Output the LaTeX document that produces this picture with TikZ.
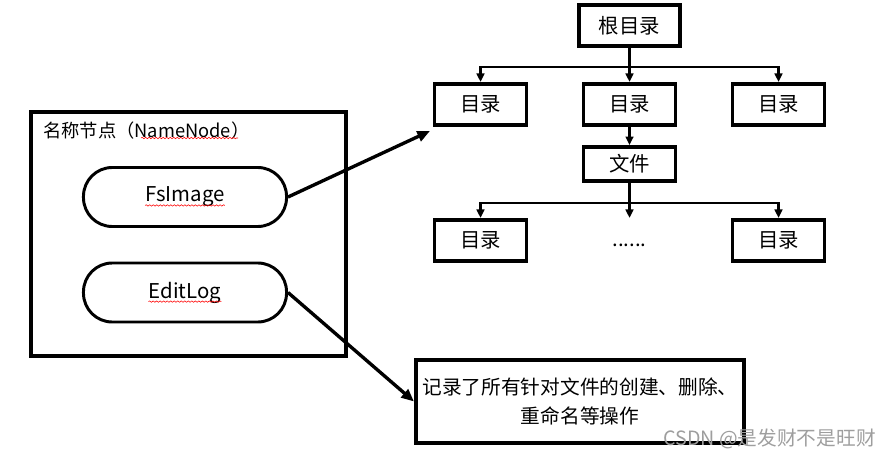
\documentclass[tikz,border=0pt]{standalone}
\usepackage{fontspec}
\setmainfont{Noto Sans CJK SC}
\usetikzlibrary{arrows.meta, positioning, decorations.pathmorphing}

\begin{document}
\begin{tikzpicture}[x=0.025cm, y=-0.025cm,
  dirbox/.style={draw, line width=2.8pt, minimum width=2.3cm, minimum height=1.03cm, inner sep=0pt, font=\fontsize{14.5}{17}\selectfont},
  pill/.style={draw, line width=2.1pt, rounded corners=0.72cm, minimum width=5.075cm, minimum height=1.475cm},
  txt/.style={inner sep=0pt, font=\fontsize{14.5}{17}\selectfont},
  tree/.style={line width=2pt, -{Triangle[length=6pt,width=5.5pt]}},
  link/.style={line width=2.4pt, -{Triangle[length=9pt,width=7.5pt]}},
  wavy/.style={red, line width=0.4pt, decorate, decoration={snake, amplitude=0.5pt, segment length=2.5pt}}]
  \useasboundingbox (0,0) rectangle (891,459);
  % directory tree
  \node[dirbox, minimum width=2.525cm] (root) at (629.5,25.5) {根目录};
  \node[dirbox] (dirL) at (480.5,104.5) {目录};
  \node[dirbox] (dirM) at (629.5,104.5) {目录};
  \node[dirbox] (dirR) at (778.5,104.5) {目录};
  \node[dirbox, minimum height=0.85cm] (file) at (629.5,164) {文件};
  \node[dirbox] (subL) at (480.5,240.5) {目录};
  \node[dirbox, draw=none] (dots) at (629.5,240.5) {\raisebox{-4pt}[0pt][0pt]{......}};
  \node[dirbox] (subR) at (778.5,240.5) {目录};
  \draw[tree] (root.south) -- ++(0,19) -| (dirL.north);
  \draw[tree] (root.south) -- ++(0,19) -| (dirR.north);
  \draw[tree] (root) -- (dirM);
  \draw[tree] (dirM) -- (file);
  \draw[tree] (file.south) -- ++(0,20) -| (subL.north);
  \draw[tree] (file.south) -- ++(0,20) -| (subR.north);
  \draw[tree] (file) -- (dots);
  % name node with its two files
  \node[draw, line width=2.8pt, minimum width=7.875cm, minimum height=6.1cm] (namenode) at (188.5,234) {};
  \node[txt, anchor=west, font=\fontsize{13}{16}\selectfont] (title) at (43,131) {名称节点（NameNode）};
  \node[pill] (fsimage) at (185,197) {};
  \node[txt] (fstext) at (fsimage) {FsImage};
  \node[pill] (editlog) at (185,292.5) {};
  \node[txt] (edittext) at (editlog) {EditLog};
  \draw[wavy] ([yshift=-2.5pt]fstext.base west) -- ([yshift=-2.5pt]fstext.base east);
  \draw[wavy] ([yshift=-2.5pt]edittext.base west) -- ([yshift=-2.5pt]edittext.base east);
  \draw[wavy] (141,138) -- (238,138);
  % log note
  \node[draw, line width=2.8pt, minimum width=8.2cm, minimum height=2.075cm, align=center, font=\fontsize{14}{20}\selectfont] (note) at (580,401.5) {记录了所有针对文件的创建、删除、\\重命名等操作};
  \coordinate (fstip) at (430,131);
  \draw[link] (fsimage.east) -- (fstip);
  \draw[link] (editlog.east) -- (note.west);
  \node[txt, anchor=east, text=black!38, font=\fontsize{14}{16}\selectfont] (mark) at (876,439) {CSDN @是发财不是旺财};
\end{tikzpicture}
\end{document}
